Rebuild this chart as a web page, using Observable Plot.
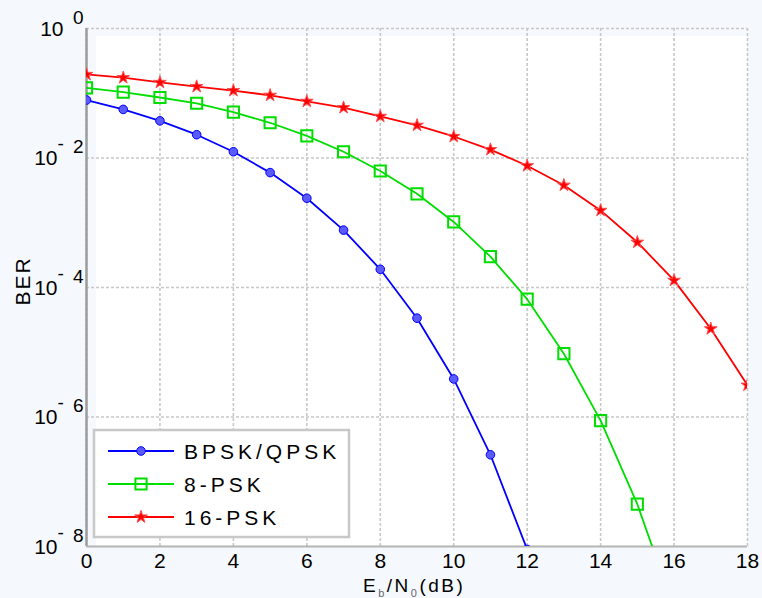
<!DOCTYPE html>
<html>
<head>
<meta charset="utf-8">
<script src="https://cdn.jsdelivr.net/npm/d3@7"></script>
<script src="https://cdn.jsdelivr.net/npm/@observablehq/plot@0.6"></script>
<style>
  html, body { margin: 0; padding: 0; background: #f5f9fd; }
  svg { display: block; }
  .legend text { letter-spacing: 4px; }
  .xlabel { letter-spacing: 2.5px; }
  .ylabel { letter-spacing: 2px; }
</style>
</head>
<body>
<div id="chart"></div>
<script>
// ---- data ----
const snrBpsk = [0,1,2,3,4,5,6,7,8,9,10,11,12];
const berBpsk = [0.0786,0.0563,0.0375,0.0229,0.0125,0.00595,0.00239,7.7e-4,1.91e-4,3.36e-5,3.87e-6,2.61e-7,9.0e-9];

const snr8psk = [0,1,2,3,4,5,6,7,8,9,10,11,12,13,14,15,16];
const ber8psk = [0.121,0.104,0.086,0.070,0.051,0.035,0.022,0.0125,0.0063,0.0028,1.03e-3,3.0e-4,6.6e-5,9.5e-6,8.8e-7,4.5e-8,1.1e-9];

const snr16psk = [0,1,2,3,4,5,6,7,8,9,10,11,12,13,14,15,16,17,18];
const ber16psk = [0.195,0.174,0.147,0.127,0.110,0.093,0.075,0.060,0.044,0.032,0.0215,0.0135,0.0076,0.0038,1.55e-3,5.0e-4,1.29e-4,2.3e-5,3.1e-6];

const seriesNames = ["BPSK/QPSK","8-PSK","16-PSK"];
const xTicks = [0,2,4,6,8,10,12,14,16,18];
const yTicks = [1,1e-2,1e-4,1e-6,1e-8];
const yTickExp = ["0","2","4","6","8"];
const yGrid = [1,1e-2,1e-4,1e-6];

const colors = ["#0000ff","#00dd00","#ff0000"];

const mk = (xs, ys, name) => xs.map((x, i) => ({snr: x, ber: ys[i], series: name}));
const rowsB = mk(snrBpsk, berBpsk, seriesNames[0]);
const rows8 = mk(snr8psk, ber8psk, seriesNames[1]);
const rows16 = mk(snr16psk, ber16psk, seriesNames[2]);
const yTable = yTicks.map((v, i) => ({v, exp: yTickExp[i]}));

const font = "Liberation Sans, Arial, sans-serif";

const chart = Plot.plot({
  width: 762,
  height: 598,
  marginLeft: 86,
  marginRight: 15,
  marginTop: 28,
  marginBottom: 52,
  style: {background: "#f5f9fd", fontFamily: font, color: "#000", overflow: "visible"},
  x: {domain: [0, 18], axis: null},
  y: {type: "log", domain: [1e-8, 1], axis: null},
  marks: [
    Plot.ruleX(xTicks, {x: d => d, stroke: "#c8c8c8", strokeWidth: 1.6, strokeDasharray: "3,2"}),
    Plot.ruleY(yGrid, {y: d => d, stroke: "#c8c8c8", strokeWidth: 1.6, strokeDasharray: "3,2"}),
    Plot.ruleX([0], {stroke: "#9c9c9c", strokeWidth: 2.5}),
    Plot.ruleY([1e-8], {stroke: "#b4b4b4", strokeWidth: 2}),

    Plot.line(rowsB, {x: "snr", y: "ber", stroke: colors[0], strokeWidth: 1.8, clip: true}),
    Plot.line(rows8, {x: "snr", y: "ber", stroke: colors[1], strokeWidth: 1.8, clip: true}),
    Plot.line(rows16, {x: "snr", y: "ber", stroke: colors[2], strokeWidth: 1.8, clip: true}),

    Plot.dot(rowsB, {x: "snr", y: "ber", r: 4.3, symbol: "circle", fill: "#5a5aff", stroke: colors[0], strokeWidth: 1, clip: true}),
    Plot.dot(rows8, {x: "snr", y: "ber", r: 6.3, symbol: "square", fill: "none", stroke: colors[1], strokeWidth: 2, clip: true}),
    Plot.dot(rows16, {x: "snr", y: "ber", r: 4, symbol: "star", fill: colors[2], stroke: "#ff5050", strokeWidth: 1, clip: true}),

    // x tick labels
    Plot.text(xTicks, {x: d => d, frameAnchor: "bottom", text: d => String(d), lineAnchor: "bottom", dy: 21, fontSize: 21, fill: "#000"}),

    // y tick labels: 10^exp
    Plot.text(yTable.filter(d => d.v < 1), {y: "v", frameAnchor: "left", text: () => "10", textAnchor: "end", lineAnchor: "bottom", dx: -29, dy: 7, fontSize: 21, fill: "#000"}),
    Plot.text(yTable.filter(d => d.v === 1), {y: "v", frameAnchor: "left", text: () => "10", textAnchor: "end", lineAnchor: "bottom", dx: -23, dy: 7, fontSize: 21, fill: "#000"}),
    Plot.text(yTable.filter(d => d.v < 1), {y: "v", frameAnchor: "left", text: () => "-", textAnchor: "start", lineAnchor: "bottom", dx: -29, dy: -8, fontSize: 19, fill: "#000"}),
    Plot.text(yTable, {y: "v", frameAnchor: "left", text: "exp", textAnchor: "end", lineAnchor: "bottom", dx: -3, dy: -5, fontSize: 19, fill: "#000"})
  ]
});

const svg = d3.select(chart);
// white plotting area (the reference leaves a pale strip along the left and top edges)
svg.insert("rect", ":first-child")
  .attr("x", 96).attr("y", 36).attr("width", 651).attr("height", 510)
  .attr("fill", "#ffffff");

// y axis label
svg.append("text")
  .attr("class", "ylabel")
  .attr("transform", "translate(30,281) rotate(-90)")
  .attr("text-anchor", "middle")
  .attr("font-family", font).attr("font-size", 21).attr("fill", "#000")
  .text("BER");

// x axis label with subscripts
const xl = svg.append("text")
  .attr("class", "xlabel")
  .attr("x", 363).attr("y", 592)
  .attr("text-anchor", "start")
  .attr("font-family", font).attr("font-size", 19).attr("fill", "#000");
xl.append("tspan").text("E");
xl.append("tspan").attr("font-size", 11).attr("dy", 5).attr("fill", "#666").text("b");
xl.append("tspan").attr("dy", -5).text("/N");
xl.append("tspan").attr("font-size", 11).attr("dy", 5).attr("fill", "#666").text("0");
xl.append("tspan").attr("dy", -5).text("(dB)");

// legend
const lg = svg.append("g").attr("class", "legend");
lg.append("rect")
  .attr("x", 94).attr("y", 430).attr("width", 255).attr("height", 107)
  .attr("fill", "#ffffff").attr("stroke", "#c8c8c8").attr("stroke-width", 2.5);
const rowY = [451, 484, 517];
const symbols = [
  {type: d3.symbolCircle, r: 4.3, fill: "#5a5aff", stroke: colors[0], sw: 1},
  {type: d3.symbolSquare, r: 6.3, fill: "none", stroke: colors[1], sw: 2},
  {type: d3.symbolStar, r: 4, fill: colors[2], stroke: "#ff5050", sw: 1}
];
seriesNames.forEach((name, i) => {
  const y = rowY[i];
  lg.append("line").attr("x1", 108).attr("x2", 174).attr("y1", y).attr("y2", y)
    .attr("stroke", colors[i]).attr("stroke-width", 1.8);
  const s = symbols[i];
  lg.append("path")
    .attr("transform", `translate(141,${y})`)
    .attr("d", d3.symbol(s.type, Math.PI * s.r * s.r)())
    .attr("fill", s.fill).attr("stroke", s.stroke).attr("stroke-width", s.sw);
  lg.append("text").attr("x", 184).attr("y", y + 7.5)
    .attr("text-anchor", "start")
    .attr("font-family", font).attr("font-size", 21).attr("fill", "#000")
    .text(name);
});

document.getElementById("chart").appendChild(chart);
</script>
</body>
</html>
